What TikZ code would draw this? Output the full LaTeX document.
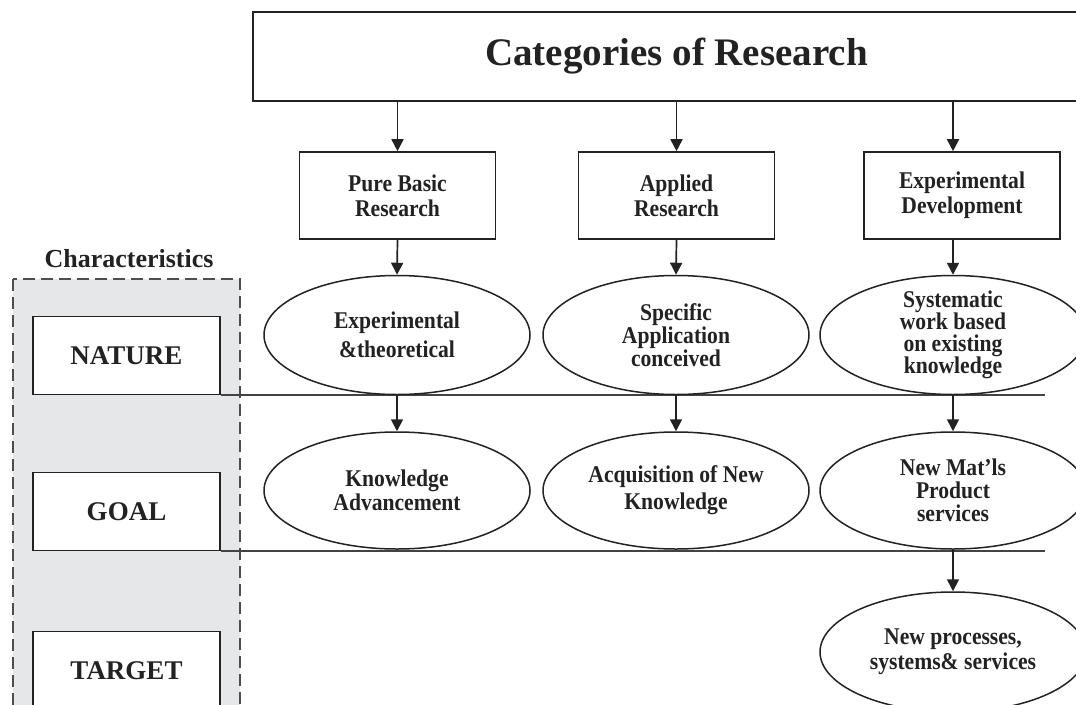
\documentclass[tikz,border=0pt]{standalone}
\usepackage{fontspec}
\setmainfont{Liberation Serif}
\newfontfamily\narrowserif{Liberation Serif}[FakeStretch=0.9]
\usetikzlibrary{shapes.geometric,arrows.meta}
\definecolor{ink}{HTML}{222222}
\definecolor{panel}{HTML}{E6E7E9}
\begin{document}
\begin{tikzpicture}[x=1pt,y=-1pt,
  every node/.style={text=ink, align=center, inner sep=0pt},
  titlebox/.style={draw=ink, line width=1.6pt, fill=white, minimum width=847pt, minimum height=89pt,
    font=\fontsize{39}{44}\selectfont\bfseries},
  catbox/.style={draw=ink, line width=1.6pt, fill=white, minimum width=196pt, minimum height=87pt,
    font=\narrowserif\fontsize{24}{25}\selectfont\bfseries},
  oval/.style={draw=ink, line width=1.5pt, ellipse, fill=white, minimum width=266pt, minimum height=119pt,
    font=\narrowserif\fontsize{24}{23}\selectfont\bfseries},
  charbox/.style={draw=ink, line width=1.6pt, fill=white, minimum width=187pt, minimum height=78pt,
    font=\fontsize{27}{30}\selectfont\bfseries},
  link/.style={draw=ink, line width=1.7pt, -{Triangle[width=12pt,length=12pt]}},
  divider/.style={draw=ink!85, line width=1.8pt}
]
\useasboundingbox (0,0) rectangle (1076,704);

% characteristics panel
\draw[fill=panel, draw=ink!80, line width=1.3pt, dash pattern=on 12pt off 6pt] (13,279) rectangle (240,720);
\node[font=\fontsize{26}{30}\selectfont\bfseries] (chartitle) at (129,259) {Characteristics};
\node[charbox] (nature) at (126.5,355.5) {NATURE};
\node[charbox] (goal) at (126.5,511.5) {GOAL};
\node[charbox] (target) at (126.5,670.5) {TARGET};

% row dividers
\coordinate (rend) at (1045,0);
\draw[divider] (nature.south east) -- (nature.south east -| rend);
\draw[divider] (goal.south east) -- (goal.south east -| rend);

% header
\node[titlebox] (title) at (676.5,56.5) {Categories of Research};

% research categories
\node[catbox] (pbr) at (397.5,195.5) {Pure Basic\\Research};
\node[catbox] (ar) at (676.5,195.5) {Applied\\Research};
\node[catbox] (ed) at (962,195.5) {Experimental\\Development};

% nature row
\node[oval, font=\narrowserif\fontsize{24}{29}\selectfont\bfseries] (exp) at (397,335) {Experimental\\\&theoretical};
\node[oval] (spec) at (676,335) {Specific\\Application\\conceived};
\node[oval, inner sep=-8pt, font=\narrowserif\fontsize{24}{22}\selectfont\bfseries] (sys) at (953,335) {Systematic\\work based\\on existing\\knowledge};

% goal row
\node[oval, minimum height=117pt, font=\narrowserif\fontsize{24}{24}\selectfont\bfseries] (know) at (397,490.5) {Knowledge\\Advancement};
\node[oval, minimum height=117pt, font=\narrowserif\fontsize{24}{27}\selectfont\bfseries] (acq) at (676,490.5) {Acquisition of New\\Knowledge};
\node[oval, minimum height=117pt] (mat) at (953,490.5) {New Mat’ls\\Product\\services};

% target row
\node[oval, minimum height=120pt, font=\narrowserif\fontsize{24}{25}\selectfont\bfseries] (proc) at (953,652) {New processes,\\systems\& services};

% connectors
\draw[link] (title.south -| pbr.north) -- (pbr.north);
\draw[link] (title.south -| ar.north) -- (ar.north);
\draw[link] (title.south -| sys.north) -- (ed.north -| sys.north);
\draw[link] (pbr.south) -- (exp.north);
\draw[link] (ar.south) -- (spec.north);
\draw[link] (ed.south -| sys.north) -- (sys.north);
\draw[link] (exp.south) -- (know.north);
\draw[link] (spec.south) -- (acq.north);
\draw[link] (sys.south) -- (mat.north);
\draw[link] (mat.south) -- (proc.north);
\end{tikzpicture}
\end{document}
